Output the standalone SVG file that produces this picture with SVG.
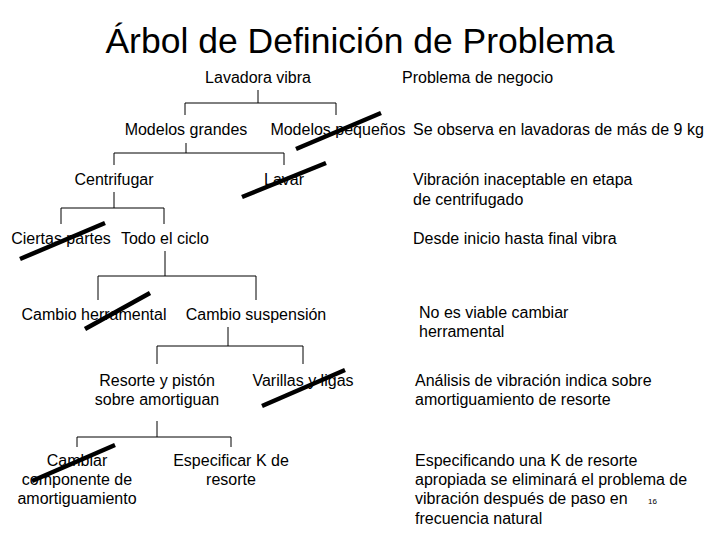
<svg xmlns="http://www.w3.org/2000/svg" width="720" height="540" viewBox="0 0 720 540">
<style>
text{font-family:"Liberation Sans",Arial,sans-serif;font-size:16px;fill:#000}
.c{text-anchor:middle}
.t{font-size:35.5px}
.l{fill:none;stroke:#000;stroke-width:1}
.x{stroke:#000;stroke-width:4.5}
.s{font-size:8px}
</style>
<rect width="720" height="540" fill="#fff"/>
<text class="t c" x="360" y="53">Árbol de Definición de Problema</text>
<g id="connectors">
<path class="l" d="M258 90V103M185 115V103H336V115"/>
<path class="l" d="M186 143V153M114 165V153H284V165"/>
<path class="l" d="M114 192V208M61 224V208H164V224"/>
<path class="l" d="M165 251V276M98 300V276H256V300"/>
<path class="l" d="M228 327V346M157 364V346H303V364"/>
<path class="l" d="M157 421V437M77 447V437H231V447"/>
</g>
<g id="n-root"><text class="c" x="258" y="83">Lavadora vibra</text></g>
<g id="n-grandes"><text class="c" x="186" y="135">Modelos grandes</text></g>
<g id="n-pequenos"><text class="c" x="338" y="135">Modelos pequeños</text><line class="x" x1="296" y1="149" x2="381" y2="113"/></g>
<g id="n-centrifugar"><text class="c" x="114" y="185">Centrifugar</text></g>
<g id="n-lavar"><text class="c" x="284" y="185">Lavar</text><line class="x" x1="242" y1="197" x2="326" y2="163"/></g>
<g id="n-ciertas"><text class="c" x="61" y="244">Ciertas partes</text><line class="x" x1="20" y1="259" x2="105" y2="223"/></g>
<g id="n-todo"><text class="c" x="165" y="244">Todo el ciclo</text></g>
<g id="n-herramental"><text class="c" x="94" y="320">Cambio herramental</text><line class="x" x1="85" y1="329" x2="150" y2="293"/></g>
<g id="n-suspension"><text class="c" x="256" y="320">Cambio suspensión</text></g>
<g id="n-resorte"><text class="c" x="157" y="386">Resorte y pistón</text><text class="c" x="157" y="405">sobre amortiguan</text></g>
<g id="n-varillas"><text class="c" x="303" y="386">Varillas y ligas</text><line class="x" x1="262" y1="406" x2="345" y2="370"/></g>
<g id="n-cambiar"><text class="c" x="77" y="466">Cambiar</text><text class="c" x="77" y="485">componente de</text><text class="c" x="77" y="504">amortiguamiento</text><line class="x" x1="32" y1="481" x2="115" y2="445"/></g>
<g id="n-especificar"><text class="c" x="231" y="466">Especificar K de</text><text class="c" x="231" y="485">resorte</text></g>
<g id="right">
<text x="402" y="83">Problema de negocio</text>
<text x="413" y="135">Se observa en lavadoras de más de 9 kg</text>
<text x="413" y="185">Vibración inaceptable en etapa</text>
<text x="413" y="205">de centrifugado</text>
<text x="413" y="244">Desde inicio hasta final vibra</text>
<text x="419" y="318">No es viable cambiar</text>
<text x="419" y="337">herramental</text>
<text x="415" y="386">Análisis de vibración indica sobre</text>
<text x="415" y="405">amortiguamiento de resorte</text>
<text x="415" y="466">Especificando una K de resorte</text>
<text x="415" y="485">apropiada se eliminará el problema de</text>
<text x="415" y="504">vibración después de paso en</text>
<text x="415" y="524">frecuencia natural</text>
<text class="s" x="648" y="504">16</text>
</g>
</svg>
